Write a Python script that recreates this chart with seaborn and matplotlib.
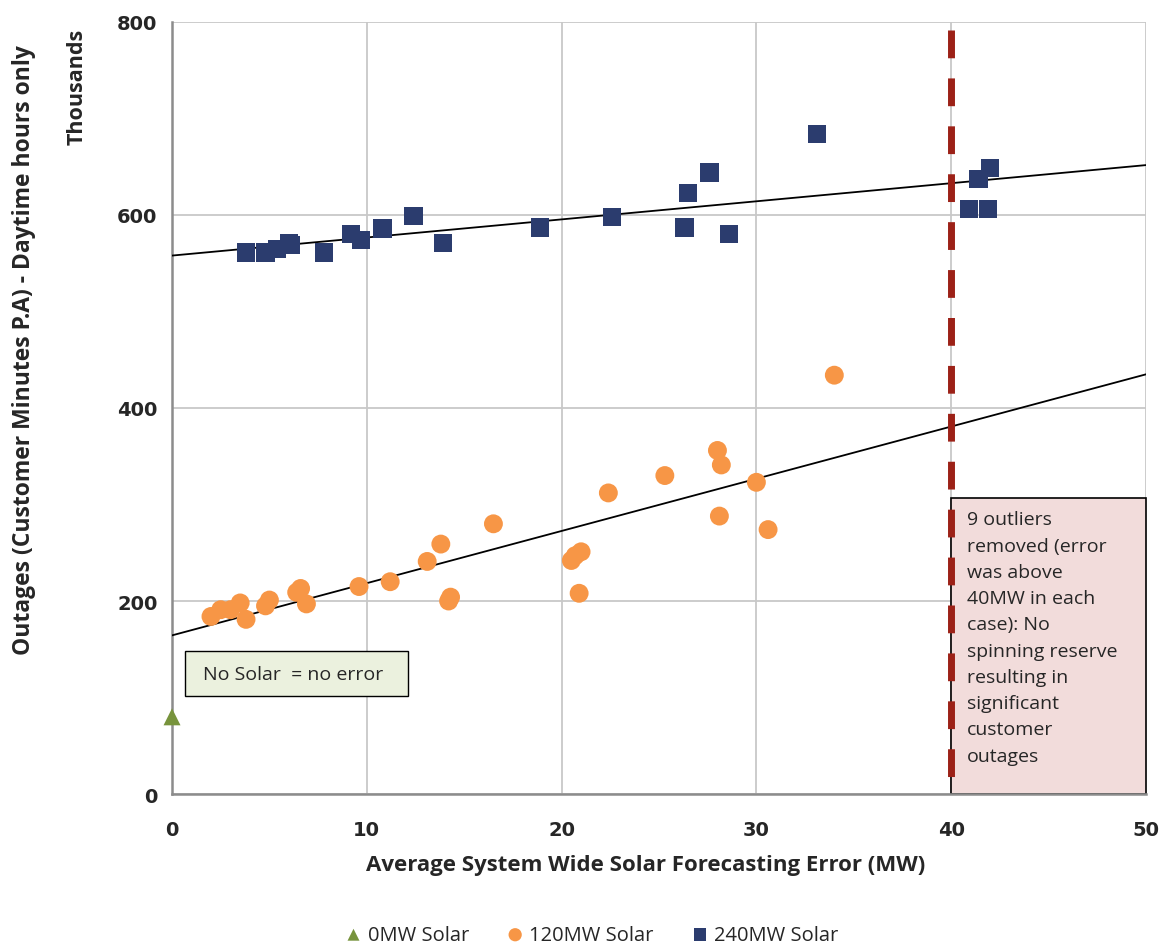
import numpy as np
import pandas as pd
import seaborn as sns
from matplotlib import pyplot as plt

# values (x = MW error, y = thousands of minutes)
zero_x = [0.0]
zero_y = [80]

solar120_x = [2.0, 2.5, 3.0, 3.5, 3.8, 4.8, 5.0, 6.4, 6.6, 6.9, 9.6, 11.2,
              13.1, 13.8, 14.2, 14.3, 16.5, 20.5, 20.7, 21.0, 20.9, 22.4,
              25.3, 28.0, 28.2, 28.1, 30.0, 30.6, 34.0]
solar120_y = [184, 191, 191, 198, 181, 195, 201, 209, 213, 197, 215, 220,
              241, 259, 200, 204, 280, 242, 247, 251, 208, 312,
              330, 356, 341, 288, 323, 274, 434]

solar240_x = [3.8, 4.8, 5.4, 6.0, 6.1, 7.8, 9.2, 9.7, 10.8, 12.4, 13.9, 18.9,
              22.6, 26.3, 26.5, 27.6, 28.6, 33.1, 40.9, 41.4, 42.0, 41.9]
solar240_y = [561, 561, 565, 571, 569, 561, 580, 574, 586, 599, 571, 587,
              598, 587, 623, 644, 580, 684, 606, 637, 649, 606]

x_ticks = [0, 10, 20, 30, 40, 50]
y_ticks = [0, 200, 400, 600, 800]

note_text = ("9 outliers\nremoved (error\nwas above\n40MW in each\ncase): No\n"
             "spinning reserve\nresulting in\nsignificant\ncustomer\noutages")

sns.set_style("white")
plt.rcParams['font.family'] = ['Open Sans', 'DejaVu Sans']

fig = plt.figure(figsize=(11.67, 9.45), dpi=100)
ax = fig.add_axes([0.1474, 0.1587, 0.982 - 0.1474, 0.9757 - 0.1587])
ax.set_xlim(0, 50)
ax.set_ylim(0, 800)

df120 = pd.DataFrame({"x": solar120_x, "y": solar120_y})
df240 = pd.DataFrame({"x": solar240_x, "y": solar240_y})

# trend lines across the whole axis
sns.regplot(data=df120, x="x", y="y", scatter=False, ci=None, truncate=False,
            color="black", line_kws={"lw": 1.3, "zorder": 3}, ax=ax)
sns.regplot(data=df240, x="x", y="y", scatter=False, ci=None, truncate=False,
            color="black", line_kws={"lw": 1.3, "zorder": 3}, ax=ax)

sns.scatterplot(x=zero_x, y=zero_y, marker="^", s=150, color="#77933C",
                edgecolor="none", label="0MW Solar", ax=ax, zorder=4, clip_on=False)
sns.scatterplot(data=df120, x="x", y="y", marker="o", s=185, color="#F79646",
                edgecolor="none", label="120MW Solar", ax=ax, zorder=4)
sns.scatterplot(data=df240, x="x", y="y", marker="s", s=175, color="#2B3C6E",
                edgecolor="none", label="240MW Solar", ax=ax, zorder=4)

# 40MW cut-off line, drawn top-down so the dashes start at the top
ax.plot([40, 40], [792, 0], color="#9C2117", lw=5, dashes=(4.0, 2.9),
        solid_capstyle="butt", dash_capstyle="butt", zorder=5)

# annotation boxes
ax.add_patch(plt.Rectangle((0.67, 101.5), 11.45, 46.7, facecolor="#EBF1DE",
                           edgecolor="black", lw=1.0, zorder=6))
ax.text(1.6, 124, "No Solar  = no error", fontsize=14, va="center", ha="left", zorder=7)
ax.add_patch(plt.Rectangle((40, 0), 10, 306.5, facecolor="#F2DCDB", edgecolor="black",
                           lw=1.2, zorder=2, clip_on=False))
ax.text(40.8, 294, note_text, fontsize=14, va="top", ha="left", linespacing=1.59, zorder=6)

ax.set_xticks(x_ticks)
ax.set_yticks(y_ticks)
ax.set_xticklabels([str(v) for v in x_ticks], fontsize=14, fontweight="bold",
                   family="DejaVu Sans")
ax.set_yticklabels([str(v) for v in y_ticks], fontsize=14, fontweight="bold",
                   family="DejaVu Sans")
ax.tick_params(axis="both", direction="inout", length=9, width=1, color="#888888")
ax.tick_params(axis="x", pad=14)
ax.tick_params(axis="y", pad=6)
ax.grid(True, color="#C8C8C8", lw=1.3)
ax.set_axisbelow(True)
for side in ["top", "right"]:
    ax.spines[side].set_visible(False)
for side in ["left", "bottom"]:
    ax.spines[side].set_color("#8C8C8C")
    ax.spines[side].set_linewidth(1.8)

ax.set_xlabel("Average System Wide Solar Forecasting Error (MW)", fontsize=16,
              fontweight="bold", labelpad=11, x=0.486)
ax.set_ylabel("")
fig.text(0.0205, 0.63, "Outages (Customer Minutes P.A) - Daytime hours only",
         rotation=90, fontsize=16.5, fontweight="bold", ha="center", va="center")
fig.text(0.066, 0.908, "Thousands", rotation=90, fontsize=15.5, fontweight="bold",
         ha="center", va="center")

handles, labels = ax.get_legend_handles_labels()
ax.get_legend().remove()
fig.legend(handles, labels, loc="center", bbox_to_anchor=(0.502, 0.0095), ncol=3,
           frameon=False, fontsize=14.5, handletextpad=-0.3, columnspacing=1.3,
           markerscale=0.7, borderpad=0)

fig.savefig("out.png", dpi=100)
